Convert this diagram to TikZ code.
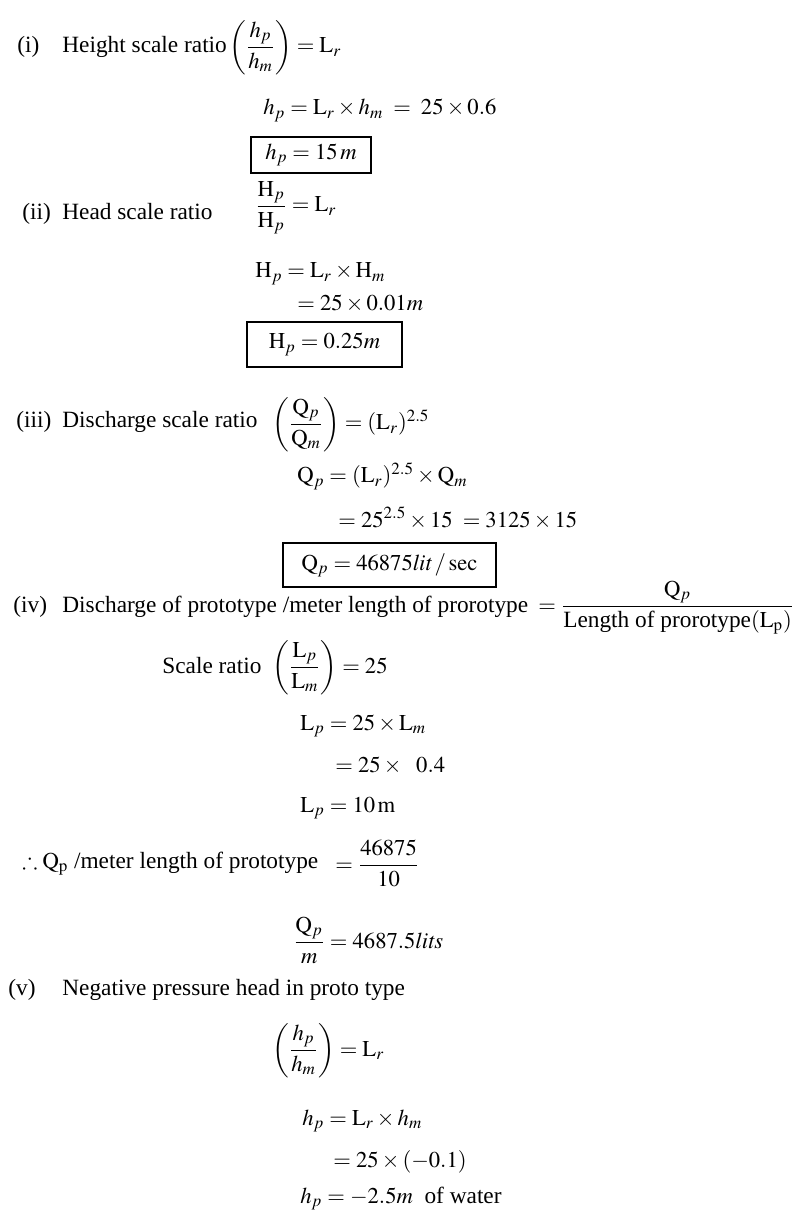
\documentclass[tikz,border=0pt]{standalone}
\usepackage{amsmath,amssymb}
\usepackage{mathptmx}
\usepackage{fontspec}
\setmainfont{Liberation Serif}[Scale=1.03]
\begin{document}
\begin{tikzpicture}[x=0.53pt,y=-0.53pt,font=\fontsize{12}{14}\selectfont,
	txt/.style={anchor=base west,inner sep=0pt},
	boxed/.style={draw,line width=0.9pt,inner sep=0pt}]
	\useasboundingbox (0,0) rectangle (798,1224);
	% item labels and headings
	\foreach \n/\x/\y/\t in {i/17/53/{Height scale ratio},ii/22/220/{Head scale ratio},
		iii/16/428/{Discharge scale ratio},iv/13/612/{Discharge of prototype /meter length of prorotype},
		v/8/995/{Negative pressure head in proto type}}
	{\node[txt] (lbl\n) at (\x,\y) {(\n)};
	 \node[txt] (head\n) at (62,\y) {\t};}
	% (i)
	\node[txt] (ratioi) at (229,53) {$\left(\dfrac{h_p}{h_m}\right) = \mathrm{L}_r$};
	\node[txt] (hpi) at (263,115) {$h_p = \mathrm{L}_r \times h_m \;=\; 25 \times 0.6$};
	\node[boxed,minimum width=63.6pt,minimum height=19.1pt] (ansi) at (311,155) {$h_p = 15\,m$};
	% (ii)
	\node[txt] (ratioii) at (255,212) {$\dfrac{\mathrm{H}_p}{\mathrm{H}_p} = \mathrm{L}_r$};
	\node[txt] (hpii) at (255,278) {$\mathrm{H}_p = \mathrm{L}_r \times \mathrm{H}_m$};
	\node[txt] (valii) at (297,311) {$= 25 \times 0.01m$};
	\node[boxed,minimum width=82.2pt,minimum height=23.9pt] (ansii) at (324.5,344.5) {$\mathrm{H}_p = 0.25m$\hspace{6.9pt}};
	% (iii)
	\node[txt] (ratioiii) at (272,430) {$\left(\dfrac{\mathrm{Q}_p}{\mathrm{Q}_m}\right) = (\mathrm{L}_r)^{2.5}$};
	\node[txt] (qpiii) at (297,483) {$\mathrm{Q}_p = (\mathrm{L}_r)^{2.5} \times \mathrm{Q}_m$};
	\node[txt] (valiii) at (338,527) {$= 25^{2.5} \times 15 \;= 3125 \times 15$};
	\node[boxed,minimum width=112.9pt,minimum height=23.3pt] (ansiii) at (389.5,565) {$\mathrm{Q}_p = 46875\mathit{lit}\,/\,\mathrm{sec}$};
	% (iv)
	\node[txt] (fraciv) at (538,612) {$= \dfrac{\mathrm{Q}_p}{\mbox{Length of prorotype}(\mathrm{L}_\mathrm{p})}$};
	\node[txt] (scaleiv) at (162,673) {Scale ratio};
	\node[txt] (ratioiv) at (272,673) {$\left(\dfrac{\mathrm{L}_p}{\mathrm{L}_m}\right) = 25$};
	\node[txt] (lpiv) at (300,730) {$\mathrm{L}_p = 25 \times \mathrm{L}_m$};
	\node[txt] (valiv) at (335,772) {$= 25 \times\ \ 0.4$};
	\node[txt] (ansiv) at (300,812) {$\mathrm{L}_p = 10\,\mathrm{m}$};
	\node[txt] (therefore) at (22,868) {$\therefore \mathrm{Q}_\mathrm{p}$ /meter length of prototype};
	\node[txt] (qmiv) at (335,871) {$= \dfrac{46875}{10}$};
	\node[txt] (perm) at (293,948) {$\dfrac{\mathrm{Q}_p}{m} = 4687.5\mathit{lits}$};
	% (v)
	\node[txt] (ratiov) at (272,1056) {$\left(\dfrac{h_p}{h_m}\right) = \mathrm{L}_r$};
	\node[txt] (hpv) at (302,1125) {$h_p = \mathrm{L}_r \times h_m$};
	\node[txt] (valv) at (333,1167) {$= 25 \times (-0.1)$};
	\node[txt] (ansv) at (300,1203) {$h_p = -2.5m$ \ of water};
\end{tikzpicture}
\end{document}
